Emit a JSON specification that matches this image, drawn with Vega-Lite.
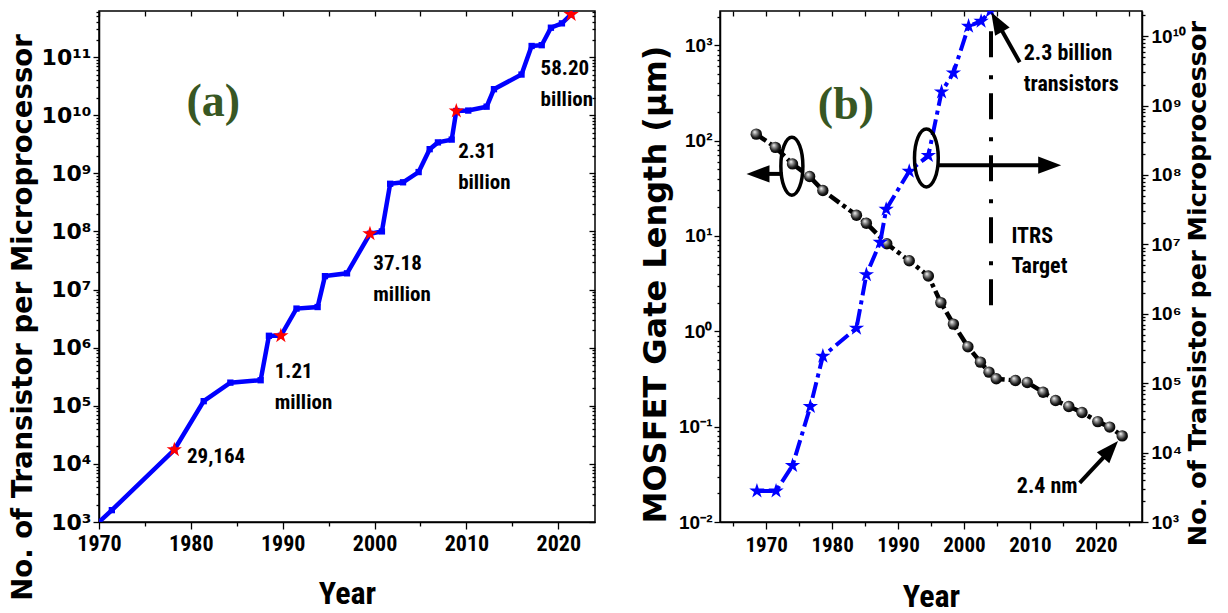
{
  "$schema": "https://vega.github.io/schema/vega-lite/v6.json",
  "background": "white",
  "padding": {"left": 8, "top": 0, "right": 0, "bottom": 0},
  "spacing": 41,
  "config": {
    "view": {"stroke": "black", "strokeWidth": 1.5},
    "axis": {"grid": false, "domainColor": "black", "domainWidth": 1.5, "tickColor": "black", "tickWidth": 1.3, "labelColor": "black", "titleColor": "black", "labelFontWeight": "bold", "titleFontWeight": "bold", "labelOverlap": false, "labelFlush": false}
  },
  "datasets": {
    "a_line": [
      {"year": 1970.0, "count": 1000}, {"year": 1971.4, "count": 1600}, {"year": 1978.2, "count": 17500},
      {"year": 1981.4, "count": 120000}, {"year": 1984.3, "count": 250000}, {"year": 1987.6, "count": 275000},
      {"year": 1988.5, "count": 1600000}, {"year": 1989.8, "count": 1600000}, {"year": 1991.5, "count": 4700000},
      {"year": 1993.8, "count": 5000000}, {"year": 1994.6, "count": 17000000}, {"year": 1997.0, "count": 19000000},
      {"year": 1999.5, "count": 91000000}, {"year": 2000.8, "count": 100000000}, {"year": 2001.7, "count": 660000000},
      {"year": 2003.1, "count": 700000000}, {"year": 2004.8, "count": 1050000000}, {"year": 2006.0, "count": 2600000000},
      {"year": 2006.9, "count": 3400000000}, {"year": 2008.4, "count": 3800000000}, {"year": 2008.9, "count": 11800000000},
      {"year": 2010.2, "count": 12000000000}, {"year": 2012.2, "count": 14000000000}, {"year": 2013.0, "count": 28000000000},
      {"year": 2016.0, "count": 50000000000}, {"year": 2017.1, "count": 155000000000}, {"year": 2018.2, "count": 160000000000},
      {"year": 2019.2, "count": 320000000000}, {"year": 2020.4, "count": 380000000000}, {"year": 2021.4, "count": 540000000000}
    ],
    "a_stars": [
      {"year": 1978.2, "count": 17500}, {"year": 1989.8, "count": 1600000}, {"year": 1999.5, "count": 91000000},
      {"year": 2008.9, "count": 11800000000}, {"year": 2021.4, "count": 540000000000}
    ],
    "a_labels": [
      {"year": 1979.57, "count": 10400, "label": "29,164"},
      {"year": 1989.13, "count": 300000, "label": "1.21\nmillion"},
      {"year": 1999.86, "count": 21700000, "label": "37.18\nmillion"},
      {"year": 2009.1, "count": 1840000000, "label": "2.31\nbillion"},
      {"year": 2018.08, "count": 49400000000, "label": "58.20\nbillion"}
    ],
    "a_tag": [{"year": 1982.45, "count": 16900000000, "label": "(a)"}],
    "b_gate": [
      {"year": 1968.5, "gate": 117}, {"year": 1971.4, "gate": 85}, {"year": 1974.0, "gate": 57}, {"year": 1976.6, "gate": 42},
      {"year": 1978.6, "gate": 30}, {"year": 1983.7, "gate": 16.5}, {"year": 1985.2, "gate": 13.6}, {"year": 1988.3, "gate": 8.3},
      {"year": 1991.7, "gate": 5.5}, {"year": 1994.6, "gate": 3.8}, {"year": 1996.5, "gate": 2.0}, {"year": 1998.4, "gate": 1.19},
      {"year": 2000.6, "gate": 0.69}, {"year": 2002.5, "gate": 0.475}, {"year": 2003.8, "gate": 0.373}, {"year": 2004.9, "gate": 0.318},
      {"year": 2007.8, "gate": 0.305}, {"year": 2009.6, "gate": 0.291}, {"year": 2012.0, "gate": 0.23}, {"year": 2013.9, "gate": 0.188},
      {"year": 2015.9, "gate": 0.163}, {"year": 2017.9, "gate": 0.141}, {"year": 2020.3, "gate": 0.113}, {"year": 2022.1, "gate": 0.099},
      {"year": 2024.0, "gate": 0.080}
    ],
    "b_count": [
      {"year": 1968.6, "count": 2800}, {"year": 1971.5, "count": 2800}, {"year": 1974.0, "count": 6500}, {"year": 1976.7, "count": 46000},
      {"year": 1978.6, "count": 245000}, {"year": 1983.7, "count": 620000}, {"year": 1985.2, "count": 3660000}, {"year": 1987.3, "count": 10700000},
      {"year": 1988.2, "count": 32000000}, {"year": 1991.7, "count": 113000000}, {"year": 1994.6, "count": 190000000}, {"year": 1996.6, "count": 1570000000},
      {"year": 1998.4, "count": 2950000000}, {"year": 2000.7, "count": 13900000000}, {"year": 2002.6, "count": 16400000000}, {"year": 2004.0, "count": 23000000000}
    ],
    "b_left_text": [
      {"year": 2007.2, "gate": 8.4, "label": "ITRS\nTarget"}
    ],
    "b_nm_text": [{"year": 2017.24, "gate": 0.0201, "label": "2.4 nm"}],
    "b_tag": [{"year": 1982.1, "gate": 238, "label": "(b)"}],
    "b_right_text": [{"year": 2009.06, "count": 4540000000, "label": "2.3 billion\ntransistors"}],
    "b_left_shafts": [
      {"year": 1972.5, "gate": 44.8, "year2": 1969.0, "gate2": 44.8},
      {"year": 2017.55, "gate": 0.0257, "year2": 2021.48, "gate2": 0.0503}
    ],
    "b_itrs": [{"year": 2004.1, "gate": 1400, "gate2": 1.28}],
    "b_right_shafts": [
      {"year": 1996.2, "count": 138000000, "year2": 2012.0, "count2": 138000000},
      {"year": 2008.45, "count": 4200000000, "year2": 2005.42, "count2": 13600000000}
    ],
    "b_ell_left": [{"year": 1973.9, "gate": 54}],
    "b_ell_right": [{"year": 1994.3, "count": 176000000}],
    "b_head_left": [{"year": 1968.76, "gate": 44.8}],
    "b_head_nm": [{"year": 2022.23, "gate": 0.0577}],
    "b_head_right": [{"year": 2013.0, "count": 138000000}],
    "b_head_bil": [{"year": 2004.98, "count": 16000000000}]
  },
  "hconcat": [
    {
      "width": 496,
      "height": 511,
      "layer": [
        {
          "layer": [
            {
              "data": {"name": "a_line"},
              "mark": {"type": "line", "color": "#0000ff", "strokeWidth": 4.5, "clip": true},
              "encoding": {
                "x": {"field": "year", "type": "quantitative", "scale": {"domain": [1970, 2024], "nice": false, "zero": false},
                  "axis": {"title": "Year", "values": [1970, 1975, 1980, 1985, 1990, 1995, 2000, 2005, 2010, 2015, 2020], "labelOverlap": false,
                    "labelExpr": "abs(datum.value - round(datum.value/10)*10) < 0.01 ? format(datum.value, 'd') : ''",
                    "tickSize": {"condition": {"test": "abs(datum.value - round(datum.value/10)*10) < 0.01", "value": 7}, "value": 4},
                    "labelFont": "Roboto Condensed", "labelFontSize": 22, "labelPadding": 4,
                    "titleFont": "Roboto Condensed", "titleFontSize": 32, "titlePadding": 24}},
                "y": {"field": "count", "type": "quantitative", "scale": {"type": "log", "domain": [1000, 620000000000], "nice": false},
                  "axis": {"title": "No. of Transistor per Microprocessor", "tickCount": 60, "labelOverlap": false,
                    "labelExpr": "abs(log(datum.value)/LN10 - round(log(datum.value)/LN10)) > 0.001 ? '' : '10' + (round(log(datum.value)/LN10) < 0 ? '⁻' : '') + (abs(round(log(datum.value)/LN10)) >= 10 ? '¹' : '') + ['⁰','¹','²','³','⁴','⁵','⁶','⁷','⁸','⁹'][abs(round(log(datum.value)/LN10)) % 10]",
                    "tickSize": {"condition": {"test": "abs(log(datum.value)/LN10 - round(log(datum.value)/LN10)) < 0.001", "value": 6}, "value": 3},
                    "labelFont": "DejaVu Sans", "labelFontSize": 22, "labelPadding": 2,
                    "titleFont": "DejaVu Sans", "titleFontSize": 27.5, "titlePadding": 4, "titleY": 306}}
              }
            },
            {
              "data": {"name": "a_line"},
              "mark": {"type": "point", "shape": "square", "filled": true, "color": "#0000ff", "size": 40, "opacity": 1, "clip": true},
              "encoding": {"x": {"field": "year", "type": "quantitative"}, "y": {"field": "count", "type": "quantitative"}}
            },
            {
              "data": {"name": "a_stars"},
              "mark": {"type": "point", "shape": "M0,-1L0.225,-0.309L0.951,-0.309L0.363,0.118L0.588,0.809L0,0.382L-0.588,0.809L-0.363,0.118L-0.951,-0.309L-0.225,-0.309Z", "filled": true, "color": "#ff0000", "size": 260, "opacity": 1, "clip": true},
              "encoding": {"x": {"field": "year", "type": "quantitative"}, "y": {"field": "count", "type": "quantitative"}}
            },
            {
              "data": {"name": "a_labels"},
              "mark": {"type": "text", "align": "left", "baseline": "alphabetic", "font": "Roboto Condensed", "fontWeight": "bold", "fontSize": 21, "lineBreak": "\n", "lineHeight": 31, "color": "black"},
              "encoding": {"x": {"field": "year", "type": "quantitative"}, "y": {"field": "count", "type": "quantitative"}, "text": {"field": "label"}}
            },
            {
              "data": {"name": "a_tag"},
              "mark": {"type": "text", "align": "center", "baseline": "middle", "font": "Liberation Serif", "fontWeight": "bold", "fontSize": 46, "color": "#385723"},
              "encoding": {"x": {"field": "year", "type": "quantitative"}, "y": {"field": "count", "type": "quantitative"}, "text": {"field": "label"}}
            }
          ]
        },
        {
          "data": {"name": "a_stars"},
          "mark": {"type": "point", "opacity": 0},
          "encoding": {
            "x": {"field": "year", "type": "quantitative",
              "axis": {"orient": "top", "values": [1970, 1975, 1980, 1985, 1990, 1995, 2000, 2005, 2010, 2015, 2020], "labels": false, "title": null, "domain": false, "tickSize": -5}},
            "y": {"field": "count", "type": "quantitative",
              "axis": {"orient": "right", "tickCount": 60, "labels": false, "title": null, "domain": false,
                "tickSize": {"condition": {"test": "abs(log(datum.value)/LN10 - round(log(datum.value)/LN10)) < 0.001", "value": -6}, "value": -3}}}
          }
        }
      ],
      "resolve": {"axis": {"x": "independent", "y": "independent"}}
    },
    {
      "width": 422,
      "height": 511,
      "encoding": {
        "x": {"field": "year", "type": "quantitative", "scale": {"domain": [1963, 2027], "nice": false, "zero": false},
          "axis": {"title": "Year", "values": [1965, 1970, 1975, 1980, 1985, 1990, 1995, 2000, 2005, 2010, 2015, 2020, 2025], "labelOverlap": false,
            "labelExpr": "abs(datum.value - round(datum.value/10)*10) < 0.01 ? format(datum.value, 'd') : ''",
            "tickSize": {"condition": {"test": "abs(datum.value - round(datum.value/10)*10) < 0.01", "value": 7}, "value": 4},
            "labelFont": "Roboto Condensed", "labelFontSize": 21, "labelPadding": 5,
            "titleFont": "Roboto Condensed", "titleFontSize": 32, "titlePadding": 26}}
      },
      "layer": [
        {
          "layer": [
            {
              "data": {"name": "b_gate"},
              "mark": {"type": "line", "color": "black", "strokeWidth": 4.5, "strokeDash": [12, 4, 4, 4]},
              "encoding": {
                "y": {"field": "gate", "type": "quantitative", "scale": {"type": "log", "domain": [0.01, 2290], "nice": false},
                  "axis": {"title": "MOSFET Gate Length (μm)", "tickCount": 60, "labelOverlap": false,
                    "labelExpr": "abs(log(datum.value)/LN10 - round(log(datum.value)/LN10)) > 0.001 ? '' : '10' + (round(log(datum.value)/LN10) < 0 ? '⁻' : '') + (abs(round(log(datum.value)/LN10)) >= 10 ? '¹' : '') + ['⁰','¹','²','³','⁴','⁵','⁶','⁷','⁸','⁹'][abs(round(log(datum.value)/LN10)) % 10]",
                    "tickSize": {"condition": {"test": "abs(log(datum.value)/LN10 - round(log(datum.value)/LN10)) < 0.001", "value": 6}, "value": 3},
                    "labelFont": "Liberation Sans", "labelFontSize": 19, "labelPadding": 2,
                    "titleFont": "DejaVu Sans", "titleFontSize": 32, "titlePadding": 6, "titleY": 273}}
              }
            },
            {
              "data": {"name": "b_gate"},
              "mark": {"type": "point", "shape": "circle", "filled": true, "size": 130, "opacity": 1,
                "fill": {"gradient": "radial", "x1": 0.35, "y1": 0.3, "r1": 0, "x2": 0.45, "y2": 0.45, "r2": 0.55,
                  "stops": [{"offset": 0, "color": "#ffffff"}, {"offset": 0.3, "color": "#9a9a9a"}, {"offset": 0.75, "color": "#1a1a1a"}, {"offset": 1, "color": "#000000"}]}},
              "encoding": {"y": {"field": "gate", "type": "quantitative"}}
            },
            {
              "data": {"name": "b_itrs"},
              "mark": {"type": "rule", "color": "black", "strokeWidth": 4, "strokeDash": [26, 18, 4, 14]},
              "encoding": {"y": {"field": "gate", "type": "quantitative"}, "y2": {"field": "gate2"}}
            },
            {
              "data": {"name": "b_left_shafts"},
              "mark": {"type": "rule", "color": "black", "strokeWidth": 4},
              "encoding": {"y": {"field": "gate", "type": "quantitative"}, "x2": {"field": "year2"}, "y2": {"field": "gate2"}}
            },
            {
              "data": {"name": "b_head_left"},
              "mark": {"type": "point", "shape": "M1,0L-1,-0.75L-1,0.75Z", "filled": true, "color": "black", "size": 529, "opacity": 1, "angle": 180},
              "encoding": {"y": {"field": "gate", "type": "quantitative"}}
            },
            {
              "data": {"name": "b_head_nm"},
              "mark": {"type": "point", "shape": "M1,0L-1,-0.75L-1,0.75Z", "filled": true, "color": "black", "size": 500, "opacity": 1, "angle": -48},
              "encoding": {"y": {"field": "gate", "type": "quantitative"}}
            },
            {
              "data": {"name": "b_ell_left"},
              "mark": {"type": "point", "shape": "M0,-1A0.38,1 0 1,1 0,1A0.38,1 0 1,1 0,-1Z", "filled": false, "color": "black", "strokeWidth": 3.5, "size": 3364, "opacity": 1},
              "encoding": {"y": {"field": "gate", "type": "quantitative"}}
            },
            {
              "data": {"name": "b_left_text"},
              "mark": {"type": "text", "align": "left", "baseline": "alphabetic", "font": "Roboto Condensed", "fontWeight": "bold", "fontSize": 22, "lineBreak": "\n", "lineHeight": 30, "color": "black"},
              "encoding": {"y": {"field": "gate", "type": "quantitative"}, "text": {"field": "label"}}
            },
            {
              "data": {"name": "b_nm_text"},
              "mark": {"type": "text", "align": "right", "baseline": "alphabetic", "font": "Roboto Condensed", "fontWeight": "bold", "fontSize": 22, "color": "black"},
              "encoding": {"y": {"field": "gate", "type": "quantitative"}, "text": {"field": "label"}}
            },
            {
              "data": {"name": "b_tag"},
              "mark": {"type": "text", "align": "center", "baseline": "middle", "font": "Liberation Serif", "fontWeight": "bold", "fontSize": 46, "color": "#385723"},
              "encoding": {"y": {"field": "gate", "type": "quantitative"}, "text": {"field": "label"}}
            }
          ]
        },
        {
          "encoding": {"x": {"field": "year", "type": "quantitative", "axis": null}},
          "layer": [
            {
              "data": {"name": "b_count"},
              "mark": {"type": "line", "color": "#0000ff", "strokeWidth": 4, "strokeDash": [16, 5, 4, 5], "clip": true},
              "encoding": {
                "y": {"field": "count", "type": "quantitative", "scale": {"type": "log", "domain": [1000, 23000000000], "nice": false},
                  "axis": {"orient": "right", "title": "No. of Transistor per Microprocessor", "tickCount": 60, "labelOverlap": false,
                    "labelExpr": "abs(log(datum.value)/LN10 - round(log(datum.value)/LN10)) > 0.001 ? '' : '10' + (round(log(datum.value)/LN10) < 0 ? '⁻' : '') + (abs(round(log(datum.value)/LN10)) >= 10 ? '¹' : '') + ['⁰','¹','²','³','⁴','⁵','⁶','⁷','⁸','⁹'][abs(round(log(datum.value)/LN10)) % 10]",
                    "tickSize": {"condition": {"test": "abs(log(datum.value)/LN10 - round(log(datum.value)/LN10)) < 0.001", "value": 6}, "value": 3},
                    "labelFont": "Liberation Sans", "labelFontSize": 19, "labelPadding": 3,
                    "titleFont": "DejaVu Sans", "titleFontSize": 25.5, "titlePadding": 0, "titleY": 272, "titleAngle": 270, "titleBaseline": "top"}}
              }
            },
            {
              "data": {"name": "b_count"},
              "mark": {"type": "point", "shape": "M0,-1L0.225,-0.309L0.951,-0.309L0.363,0.118L0.588,0.809L0,0.382L-0.588,0.809L-0.363,0.118L-0.951,-0.309L-0.225,-0.309Z", "filled": true, "color": "#0000ff", "size": 260, "opacity": 1, "clip": true},
              "encoding": {"y": {"field": "count", "type": "quantitative"}}
            },
            {
              "data": {"name": "b_right_shafts"},
              "mark": {"type": "rule", "color": "black", "strokeWidth": 4},
              "encoding": {"y": {"field": "count", "type": "quantitative"}, "x2": {"field": "year2"}, "y2": {"field": "count2"}}
            },
            {
              "data": {"name": "b_head_right"},
              "mark": {"type": "point", "shape": "M1,0L-1,-0.75L-1,0.75Z", "filled": true, "color": "black", "size": 529, "opacity": 1, "angle": 0},
              "encoding": {"y": {"field": "count", "type": "quantitative"}}
            },
            {
              "data": {"name": "b_head_bil"},
              "mark": {"type": "point", "shape": "M1,0L-1,-0.75L-1,0.75Z", "filled": true, "color": "black", "size": 500, "opacity": 1, "angle": -120},
              "encoding": {"y": {"field": "count", "type": "quantitative"}}
            },
            {
              "data": {"name": "b_ell_right"},
              "mark": {"type": "point", "shape": "M0,-1A0.41,1 0 1,1 0,1A0.41,1 0 1,1 0,-1Z", "filled": false, "color": "black", "strokeWidth": 3.5, "size": 3364, "opacity": 1},
              "encoding": {"y": {"field": "count", "type": "quantitative"}}
            },
            {
              "data": {"name": "b_right_text"},
              "mark": {"type": "text", "align": "left", "baseline": "alphabetic", "font": "Roboto Condensed", "fontWeight": "bold", "fontSize": 22, "lineBreak": "\n", "lineHeight": 31, "color": "black"},
              "encoding": {"y": {"field": "count", "type": "quantitative"}, "text": {"field": "label"}}
            }
          ]
        },
        {
          "data": {"name": "b_tag"},
          "mark": {"type": "point", "opacity": 0},
          "encoding": {
            "x": {"field": "year", "type": "quantitative",
              "axis": {"orient": "top", "values": [1965, 1970, 1975, 1980, 1985, 1990, 1995, 2000, 2005, 2010, 2015, 2020, 2025], "labels": false, "title": null, "domain": false, "tickSize": -5}},
            "y": {"field": "gate", "type": "quantitative", "axis": null}
          }
        }
      ],
      "resolve": {"scale": {"y": "independent"}, "axis": {"x": "independent"}}
    }
  ]
}
